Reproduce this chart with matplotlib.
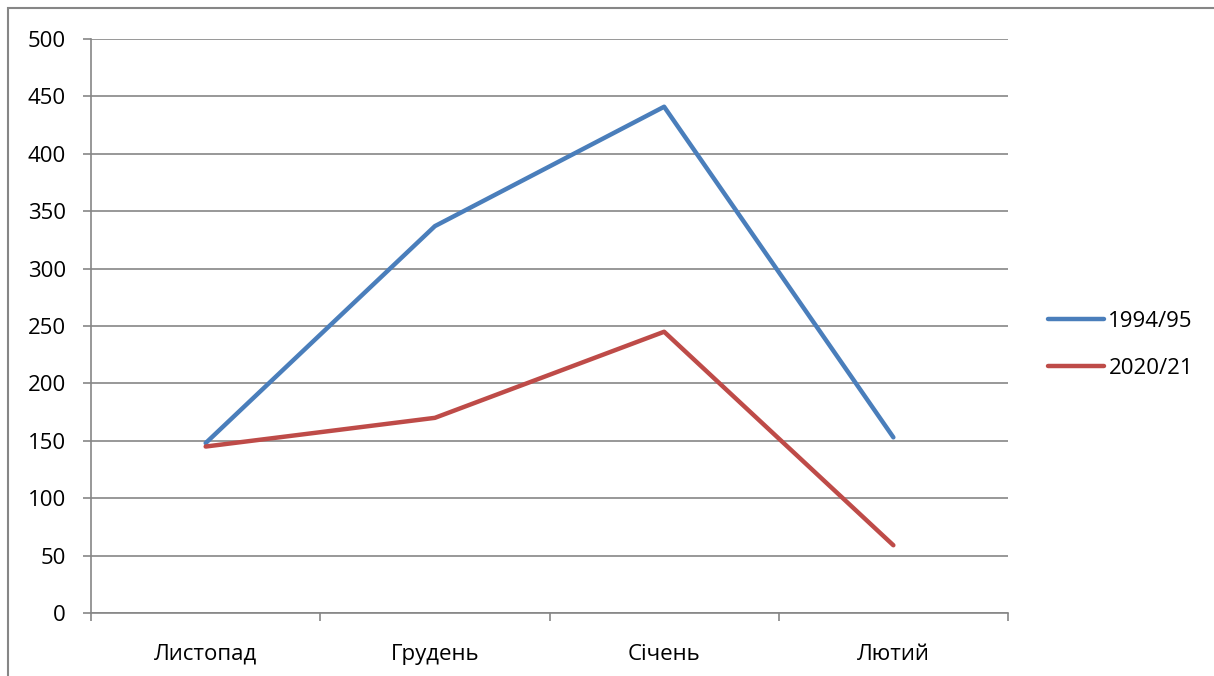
import matplotlib.pyplot as plt
from matplotlib.patches import Rectangle

months = ["Листопад", "Грудень", "Січень", "Лютий"]
season_1994 = [148, 337, 441, 153]
season_2020 = [145, 170, 245, 59]
series_names = ["1994/95", "2020/21"]

plt.rcParams['font.family'] = ['Open Sans', 'DejaVu Sans']

fig = plt.figure(figsize=(12.14, 6.76), dpi=100)
ax = fig.add_axes([0.075, 0.0932, 0.7553, 0.8491])

x = range(len(months))
ax.plot(x, season_1994, color="#4A7EBB", linewidth=3.2, solid_capstyle="round", label=series_names[0])
ax.plot(x, season_2020, color="#BE4B48", linewidth=3.2, solid_capstyle="round", label=series_names[1])

ax.set_xlim(-0.5, len(months) - 0.5)
ax.set_ylim(0, 500)
ax.set_yticks(range(0, 501, 50))
ax.set_xticks(list(x))
ax.set_xticklabels(months)
ax.set_xticks([i - 0.5 for i in range(len(months) + 1)], minor=True)

ax.grid(axis="y", color="#868686", linewidth=1.2)
ax.set_axisbelow(True)
for side in ["top", "right"]:
    ax.spines[side].set_visible(False)
for side in ["left", "bottom"]:
    ax.spines[side].set_color("#868686")
    ax.spines[side].set_linewidth(1.2)

ax.tick_params(axis="y", length=6, width=1.2, color="#868686", labelsize=16, pad=12)
ax.tick_params(axis="x", which="major", length=0, labelsize=16, pad=22)
ax.tick_params(axis="x", which="minor", length=6, width=1.2, color="#868686")

ax.legend(loc="center left", bbox_to_anchor=(1.0436, 0.467), frameon=False, fontsize=16,
          borderpad=0, borderaxespad=0,
          handlelength=2.5, handletextpad=0.22, labelspacing=1.15)

# outer chart border
fig.patches.append(Rectangle((8 / 1214, -0.1), 1.2, 1 - 8 / 676 + 0.1,
                             transform=fig.transFigure, fill=False,
                             edgecolor="#868686", linewidth=1.5))

fig.savefig("out.png", dpi=100)
